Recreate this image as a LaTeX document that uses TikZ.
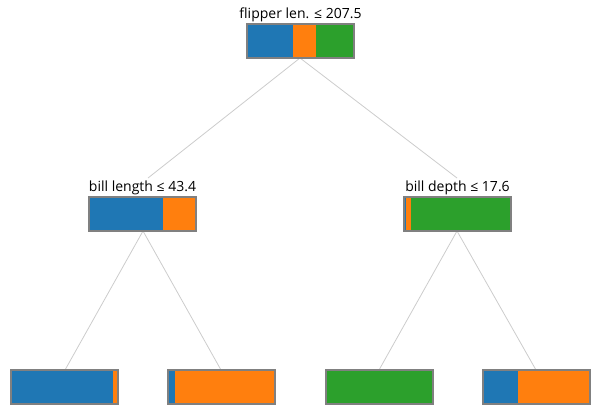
\documentclass[tikz,border=0pt]{standalone}
\usepackage{fontspec}
\setmainfont{Open Sans}
\usetikzlibrary{positioning}
\definecolor{cblue}{HTML}{1F77B4}
\definecolor{corange}{HTML}{FF7F0E}
\definecolor{cgreen}{HTML}{2CA02C}
\definecolor{cedge}{HTML}{CCCCCC}
\definecolor{cframe}{HTML}{808080}
% draws a stacked bar: x, y (bottom), blue, orange, green widths
\newcommand{\splitbar}[6]{%
  \fill[cblue] (#2,#3) rectangle ++(#4,-34);
  \fill[corange] (#2+#4,#3) rectangle ++(#5,-34);
  \fill[cgreen] (#2+#4+#5,#3) rectangle ++(#6,-34);
  \node[bar] (#1) at (#2+53.5,#3-17) {};}
\begin{document}
\begin{tikzpicture}
      [x=0.75pt, y=-0.75pt,
      bar/.style={draw=cframe, thick, minimum width=80.25pt, minimum height=25.5pt, inner sep=0pt},
      lab/.style={font=\fontsize{10.5}{12}\selectfont, inner sep=1pt},
      arr/.style={-,cedge,semithick}]
      \useasboundingbox (0,0) rectangle (605,407);
      \draw[arr] (300,58) -- (148,178);
      \draw[arr] (300,58) -- (457,178);
      \draw[arr] (143,231) -- (65,370);
      \draw[arr] (143,231) -- (221,370);
      \draw[arr] (457,231) -- (379,370);
      \draw[arr] (457,231) -- (536,370);
      \splitbar{root}{247}{58}{46}{23}{38}
      \splitbar{left}{89}{231}{74}{33}{0}
      \splitbar{right}{404}{231}{2}{5}{100}
      \splitbar{ll}{11}{404}{102}{5}{0}
      \splitbar{lr}{168}{404}{7}{99}{0}
      \splitbar{rl}{326}{404}{0}{0}{107}
      \splitbar{rr}{483}{404}{35}{72}{0}
      \node[lab, above=0pt of root] {flipper len. ≤ 207.5};
      \node[lab, above=0pt of left] {bill length ≤ 43.4};
      \node[lab, above=0pt of right] {bill depth ≤ 17.6};
\end{tikzpicture}
\end{document}
